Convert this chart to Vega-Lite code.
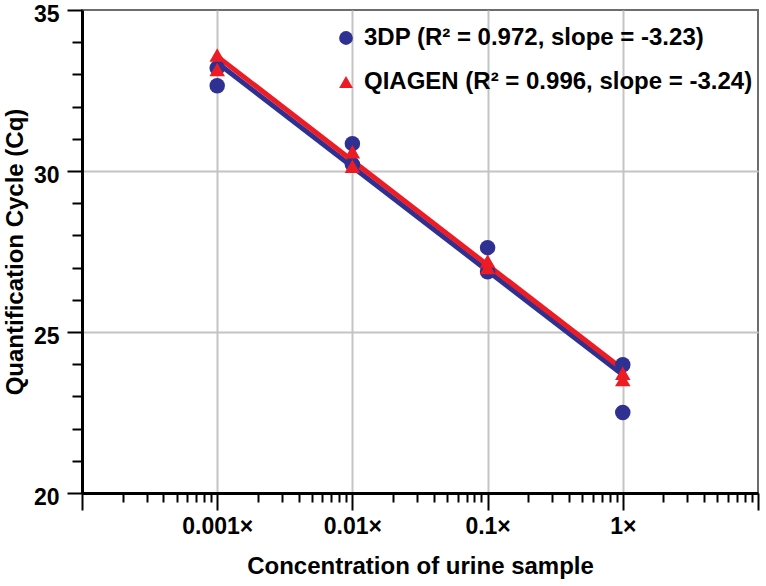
{
  "$schema": "https://vega.github.io/schema/vega-lite/v6.json",
  "width": 676,
  "height": 483,
  "autosize": {"type": "none"},
  "padding": {"left": 82, "top": 10, "right": 8, "bottom": 93},
  "background": "white",
  "config": {
    "font": "Liberation Sans",
    "view": {"stroke": "#6d6d6d", "strokeWidth": 2}
  },
  "datasets": {
    "points": [
      {"series": "3DP", "conc": 0.001, "cq": 33.2},
      {"series": "3DP", "conc": 0.001, "cq": 32.65},
      {"series": "3DP", "conc": 0.01, "cq": 30.85},
      {"series": "3DP", "conc": 0.01, "cq": 30.2},
      {"series": "3DP", "conc": 0.1, "cq": 27.62},
      {"series": "3DP", "conc": 0.1, "cq": 26.87},
      {"series": "3DP", "conc": 1, "cq": 23.98},
      {"series": "3DP", "conc": 1, "cq": 22.5},
      {"series": "QIAGEN", "conc": 0.001, "cq": 33.6},
      {"series": "QIAGEN", "conc": 0.001, "cq": 33.15},
      {"series": "QIAGEN", "conc": 0.01, "cq": 30.6},
      {"series": "QIAGEN", "conc": 0.01, "cq": 30.15},
      {"series": "QIAGEN", "conc": 0.1, "cq": 27.2},
      {"series": "QIAGEN", "conc": 0.1, "cq": 27.0},
      {"series": "QIAGEN", "conc": 1, "cq": 23.72},
      {"series": "QIAGEN", "conc": 1, "cq": 23.52}
    ],
    "fits": [
      {"series": "3DP", "conc": 0.001, "cq": 33.36},
      {"series": "3DP", "conc": 1, "cq": 23.67},
      {"series": "QIAGEN", "conc": 0.001, "cq": 33.56},
      {"series": "QIAGEN", "conc": 1, "cq": 23.84}
    ]
  },
  "encoding": {
    "x": {
      "field": "conc",
      "type": "quantitative",
      "scale": {"type": "log", "domain": [0.0001, 10], "nice": false},
      "axis": {
        "title": "Concentration of urine sample",
        "values": [0.0001, 0.0002, 0.0003, 0.0004, 0.0005, 0.0006, 0.0007, 0.0008, 0.0009,
                   0.001, 0.002, 0.003, 0.004, 0.005, 0.006, 0.007, 0.008, 0.009,
                   0.01, 0.02, 0.03, 0.04, 0.05, 0.06, 0.07, 0.08, 0.09,
                   0.1, 0.2, 0.3, 0.4, 0.5, 0.6, 0.7, 0.8, 0.9,
                   1, 2, 3, 4, 5, 6, 7, 8, 9, 10],
        "labelExpr": "abs(log(datum.value)/LN10 - round(log(datum.value)/LN10)) < 0.001 && datum.value > 0.0005 && datum.value < 2 ? format(datum.value, '~g') + '×' : ''",
        "tickSize": {"condition": {"test": "abs(log(datum.value)/LN10 - round(log(datum.value)/LN10)) < 0.001", "value": 17}, "value": 9},
        "tickWidth": 2,
        "tickColor": "black",
        "domainColor": "black",
        "domainWidth": 3,
        "gridColor": "#c4c4c4",
        "gridWidth": 2,
        "gridOpacity": {"condition": {"test": "abs(log(datum.value)/LN10 - round(log(datum.value)/LN10)) < 0.001 && datum.value > 0.0005 && datum.value < 2", "value": 1}, "value": 0},
        "labelFontSize": 23,
        "labelFontWeight": "bold",
        "labelColor": "black",
        "labelPadding": 5,
        "labelFlush": false,
        "labelOverlap": false,
        "titleFontSize": 24,
        "titleFontWeight": "bold",
        "titleColor": "black",
        "titlePadding": 16
      }
    },
    "y": {
      "field": "cq",
      "type": "quantitative",
      "scale": {"domain": [20, 35], "nice": false, "zero": false},
      "axis": {
        "title": "Quantification Cycle (Cq)",
        "values": [20, 21, 22, 23, 24, 25, 26, 27, 28, 29, 30, 31, 32, 33, 34, 35],
        "labelExpr": "datum.value % 5 == 0 ? datum.label : ''",
        "tickSize": {"condition": {"test": "datum.value % 5 == 0", "value": 15}, "value": 10},
        "tickWidth": 2,
        "tickColor": "black",
        "domainColor": "black",
        "domainWidth": 3,
        "gridColor": "#c4c4c4",
        "gridWidth": 2,
        "gridOpacity": {"condition": {"test": "datum.value % 5 == 0 && datum.value > 20 && datum.value < 35", "value": 1}, "value": 0},
        "labelFontSize": 23,
        "labelFontWeight": "bold",
        "labelColor": "black",
        "labelPadding": 8,
        "labelOffset": 4,
        "labelFlush": false,
        "labelOverlap": false,
        "titleFontSize": 24,
        "titleFontWeight": "bold",
        "titleColor": "black",
        "titlePadding": 6
      }
    }
  },
  "layer": [
    {
      "data": {"name": "fits"},
      "transform": [{"filter": "datum.series == '3DP'"}],
      "mark": {"type": "line", "color": "#2e3192", "strokeWidth": 5},
      "encoding": {}
    },
    {
      "data": {"name": "fits"},
      "transform": [{"filter": "datum.series == 'QIAGEN'"}],
      "mark": {"type": "line", "color": "#ed1c24", "strokeWidth": 5},
      "encoding": {}
    },
    {
      "data": {"name": "points"},
      "mark": {"type": "point", "filled": true, "opacity": 1, "size": 240},
      "encoding": {
        "color": {
          "field": "series",
          "type": "nominal",
          "scale": {"domain": ["3DP", "QIAGEN"], "range": ["#2e3192", "#ed1c24"]},
          "legend": {
            "orient": "none",
            "legendX": 252,
            "legendY": 16,
            "title": null,
            "labelFontSize": 24,
            "labelFontWeight": "bold",
            "labelColor": "black",
            "labelLimit": 600,
            "labelOffset": 6,
            "rowPadding": 20,
            "symbolSize": 190,
            "symbolStrokeWidth": 0,
            "labelExpr": "datum.label == '3DP' ? '3DP (R² = 0.972, slope = -3.23)' : 'QIAGEN (R² = 0.996, slope = -3.24)'"
          }
        },
        "shape": {
          "field": "series",
          "type": "nominal",
          "scale": {"domain": ["3DP", "QIAGEN"], "range": ["circle", "triangle-up"]}
        }
      }
    }
  ]
}
